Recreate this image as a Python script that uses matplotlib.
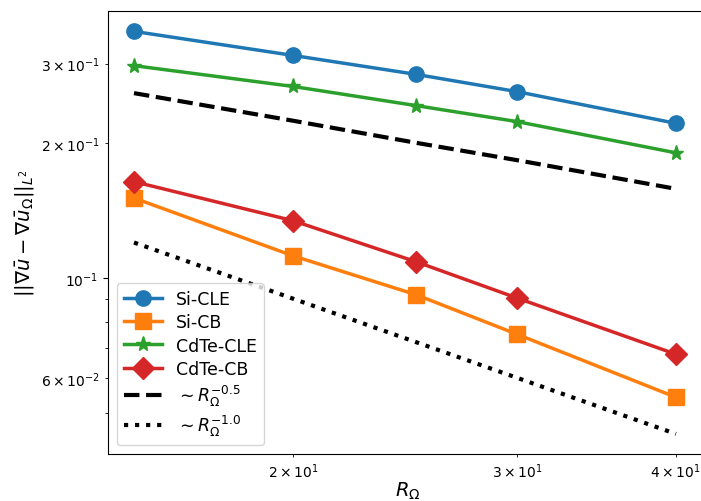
import numpy as np
import matplotlib
matplotlib.use('Agg')
import matplotlib.pyplot as plt

# Data (log-log)
R = [15, 20, 25, 30, 40]
si_cle = [0.354, 0.313, 0.284, 0.260, 0.221]
si_cb = [0.1507, 0.1121, 0.0918, 0.0750, 0.0543]
cdte_cle = [0.297, 0.267, 0.242, 0.223, 0.190]
cdte_cb = [0.1639, 0.1342, 0.1087, 0.0903, 0.0677]
ref_half = [0.258, 0.224, 0.200, 0.183, 0.158]   # ~ R^-0.5
ref_one = [0.120, 0.090, 0.072, 0.060, 0.045]    # ~ R^-1.0

fig = plt.figure(figsize=(7.01, 5.02), dpi=100)
ax = fig.add_axes([108 / 701, 47 / 502, 600 / 701, 443 / 502])

ax.loglog(R, si_cle, '-o', color='tab:blue', lw=2.5, ms=11, label='Si-CLE')
ax.loglog(R, si_cb, '-s', color='tab:orange', lw=2.5, ms=11, label='Si-CB')
ax.loglog(R, cdte_cle, '-*', color='tab:green', lw=2.5, ms=11, label='CdTe-CLE')
ax.loglog(R, cdte_cb, '-D', color='tab:red', lw=2.5, ms=11, label='CdTe-CB')
ax.loglog(R, ref_half, '--', color='black', lw=3, label=r'$\sim R_\Omega^{-0.5}$')
ax.loglog(R, ref_one, ':', color='black', lw=3, label=r'$\sim R_\Omega^{-1.0}$')

# right edge of the axes falls just outside the picture
x_right = 20 * 10 ** ((708 - 293) / 1272)
ax.set_xlim(14.31, x_right)
ax.set_ylim(0.0406, 0.393)

ax.set_xlabel(r'$R_\Omega$', fontsize=14, labelpad=0)
ax.set_ylabel(r'$||\nabla \bar{u} - \nabla \bar{u}_\Omega||_{L^2}$', fontsize=14)

ax.legend(loc='lower left', fontsize=12.5, handlelength=2.2, labelspacing=0.3)

fig.savefig('out.png', dpi=100)
